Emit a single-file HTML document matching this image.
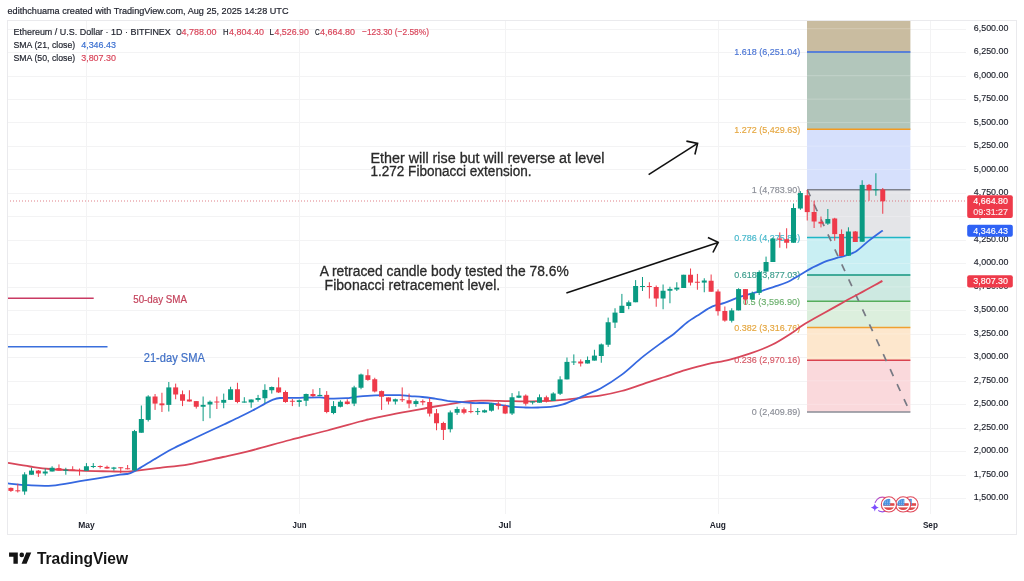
<!DOCTYPE html>
<html lang="en"><head><meta charset="utf-8"><title>ETHUSD chart</title>
<style>html,body{margin:0;padding:0;background:#fff}body{width:1024px;height:581px;overflow:hidden}svg{display:block}text{font-family:"Liberation Sans",sans-serif}</style></head><body>
<svg width="1024" height="581" viewBox="0 0 1024 581">
<rect width="1024" height="581" fill="#fff"/>
<g stroke="#f3f3f4" stroke-width="1" shape-rendering="crispEdges">
<line x1="7.0" y1="498.5" x2="966" y2="498.5"/><line x1="7.0" y1="475.0" x2="966" y2="475.0"/><line x1="7.0" y1="451.5" x2="966" y2="451.5"/><line x1="7.0" y1="428.1" x2="966" y2="428.1"/><line x1="7.0" y1="404.6" x2="966" y2="404.6"/><line x1="7.0" y1="381.1" x2="966" y2="381.1"/><line x1="7.0" y1="357.6" x2="966" y2="357.6"/><line x1="7.0" y1="334.2" x2="966" y2="334.2"/><line x1="7.0" y1="310.7" x2="966" y2="310.7"/><line x1="7.0" y1="287.2" x2="966" y2="287.2"/><line x1="7.0" y1="263.8" x2="966" y2="263.8"/><line x1="7.0" y1="240.3" x2="966" y2="240.3"/><line x1="7.0" y1="216.8" x2="966" y2="216.8"/><line x1="7.0" y1="193.3" x2="966" y2="193.3"/><line x1="7.0" y1="169.9" x2="966" y2="169.9"/><line x1="7.0" y1="146.4" x2="966" y2="146.4"/><line x1="7.0" y1="122.9" x2="966" y2="122.9"/><line x1="7.0" y1="99.4" x2="966" y2="99.4"/><line x1="7.0" y1="76.0" x2="966" y2="76.0"/><line x1="7.0" y1="52.5" x2="966" y2="52.5"/><line x1="7.0" y1="29.0" x2="966" y2="29.0"/><line x1="86.5" y1="20.5" x2="86.5" y2="514.2"/><line x1="299.5" y1="20.5" x2="299.5" y2="514.2"/><line x1="505.5" y1="20.5" x2="505.5" y2="514.2"/><line x1="718.0" y1="20.5" x2="718.0" y2="514.2"/><line x1="930.8" y1="20.5" x2="930.8" y2="514.2"/></g>
<g>
<rect x="807.0" y="360.14" width="103.4" height="51.81" fill="#fad9dc"/><rect x="807.0" y="327.60" width="103.4" height="32.54" fill="#fde7cd"/><rect x="807.0" y="301.30" width="103.4" height="26.30" fill="#dcefdd"/><rect x="807.0" y="275.00" width="103.4" height="26.30" fill="#cde9e1"/><rect x="807.0" y="237.55" width="103.4" height="37.45" fill="#c9eff3"/><rect x="807.0" y="189.85" width="103.4" height="47.70" fill="#e4e5e8"/><rect x="807.0" y="129.22" width="103.4" height="60.63" fill="#d6e0fc"/><rect x="807.0" y="52.10" width="103.4" height="77.12" fill="#b2c6bb"/><rect x="807.0" y="20.50" width="103.4" height="31.60" fill="#c9bca0"/></g>
<g stroke="#ffffff" stroke-opacity="0.22" stroke-width="1"><line x1="807.0" y1="404.3" x2="910.4" y2="404.3"/><line x1="807.0" y1="380.8" x2="910.4" y2="380.8"/><line x1="807.0" y1="357.3" x2="910.4" y2="357.3"/><line x1="807.0" y1="333.9" x2="910.4" y2="333.9"/><line x1="807.0" y1="310.4" x2="910.4" y2="310.4"/><line x1="807.0" y1="286.9" x2="910.4" y2="286.9"/><line x1="807.0" y1="263.5" x2="910.4" y2="263.5"/><line x1="807.0" y1="240.0" x2="910.4" y2="240.0"/><line x1="807.0" y1="216.5" x2="910.4" y2="216.5"/><line x1="807.0" y1="193.0" x2="910.4" y2="193.0"/><line x1="807.0" y1="169.6" x2="910.4" y2="169.6"/><line x1="807.0" y1="146.1" x2="910.4" y2="146.1"/><line x1="807.0" y1="122.6" x2="910.4" y2="122.6"/><line x1="807.0" y1="99.1" x2="910.4" y2="99.1"/><line x1="807.0" y1="75.7" x2="910.4" y2="75.7"/><line x1="807.0" y1="52.2" x2="910.4" y2="52.2"/><line x1="807.0" y1="28.7" x2="910.4" y2="28.7"/><line x1="930.8" y1="0" x2="930.8" y2="0"/></g>
<line x1="7.0" y1="201.0" x2="967" y2="201.0" stroke="#d8606a" stroke-opacity="0.8" stroke-width="1" stroke-dasharray="1 2"/>
<g stroke-width="1.5">
<line x1="807.0" y1="411.95" x2="910.4" y2="411.95" stroke="#8a8d96"/><line x1="807.0" y1="360.14" x2="910.4" y2="360.14" stroke="#d9424f"/><line x1="807.0" y1="327.60" x2="910.4" y2="327.60" stroke="#f0a030"/><line x1="807.0" y1="301.30" x2="910.4" y2="301.30" stroke="#55ad5a"/><line x1="807.0" y1="275.00" x2="910.4" y2="275.00" stroke="#12957e"/><line x1="807.0" y1="237.55" x2="910.4" y2="237.55" stroke="#1fb6c6"/><line x1="807.0" y1="189.85" x2="910.4" y2="189.85" stroke="#7e818c"/><line x1="807.0" y1="129.22" x2="910.4" y2="129.22" stroke="#f39a20"/><line x1="807.0" y1="52.10" x2="910.4" y2="52.10" stroke="#3568e0"/></g>
<line x1="807.4" y1="189.9" x2="909.9" y2="411.9" stroke="#777a84" stroke-width="1.7" stroke-dasharray="7.5 9" stroke-dashoffset="0.5"/>
<g font-size="9.6" text-anchor="end">
<text x="800.2" y="415.2" fill="#8a8d96" stroke="#8a8d96" stroke-width="0.15" textLength="48.4" lengthAdjust="spacingAndGlyphs">0 (2,409.89)</text><text x="800.2" y="363.4" fill="#d65866" stroke="#d65866" stroke-width="0.15" textLength="66.0" lengthAdjust="spacingAndGlyphs">0.236 (2,970.16)</text><text x="800.2" y="330.9" fill="#e5a63f" stroke="#e5a63f" stroke-width="0.15" textLength="66.0" lengthAdjust="spacingAndGlyphs">0.382 (3,316.76)</text><text x="800.2" y="304.6" fill="#6bb06d" stroke="#6bb06d" stroke-width="0.15" textLength="57.3" lengthAdjust="spacingAndGlyphs">0.5 (3,596.90)</text><text x="800.2" y="278.3" fill="#3a9c8b" stroke="#3a9c8b" stroke-width="0.15" textLength="66.0" lengthAdjust="spacingAndGlyphs">0.618 (3,877.03)</text><text x="800.2" y="240.9" fill="#44b7cb" stroke="#44b7cb" stroke-width="0.15" textLength="66.0" lengthAdjust="spacingAndGlyphs">0.786 (4,275.86)</text><text x="800.2" y="193.2" fill="#8a8d96" stroke="#8a8d96" stroke-width="0.15" textLength="48.4" lengthAdjust="spacingAndGlyphs">1 (4,783.90)</text><text x="800.2" y="132.5" fill="#e5a63f" stroke="#e5a63f" stroke-width="0.15" textLength="66.0" lengthAdjust="spacingAndGlyphs">1.272 (5,429.63)</text><text x="800.2" y="55.4" fill="#4a74d4" stroke="#4a74d4" stroke-width="0.15" textLength="66.0" lengthAdjust="spacingAndGlyphs">1.618 (6,251.04)</text></g>
<path d="M8.0 462.9 C11.7 463.5 23.0 465.5 30.0 466.5 C37.0 467.5 41.7 468.3 50.0 469.0 C58.3 469.7 70.0 470.2 80.0 470.6 C90.0 471.0 102.0 471.2 110.0 471.4 C118.0 471.6 123.5 471.8 128.0 471.7 C132.5 471.6 131.7 471.2 137.0 470.6 C142.3 470.0 151.4 468.9 160.0 467.8 C168.6 466.8 178.3 466.1 188.8 464.3 C199.3 462.5 213.1 459.1 223.0 457.0 C232.9 454.9 236.8 454.2 248.0 451.4 C259.2 448.6 276.8 443.5 290.0 440.0 C303.2 436.5 315.8 433.6 327.5 430.5 C339.2 427.4 353.2 423.3 360.0 421.5 C366.8 419.7 363.8 420.5 368.0 419.5 C372.2 418.5 378.0 417.1 385.0 415.8 C392.0 414.4 401.7 412.6 410.0 411.1 C418.3 409.6 426.7 407.9 435.0 406.5 C443.3 405.1 453.8 403.4 460.0 402.4 C466.2 401.4 467.8 401.1 472.5 400.8 C477.2 400.4 481.2 400.5 488.0 400.6 C494.8 400.7 504.7 401.1 513.0 401.2 C521.3 401.4 529.7 401.5 538.0 401.2 C546.3 401.0 554.7 400.5 563.0 399.8 C571.3 399.0 581.8 397.6 588.0 396.9 C594.2 396.2 594.4 396.7 600.0 395.7 C605.6 394.7 614.3 392.9 621.5 391.0 C628.7 389.1 635.8 386.4 643.0 384.1 C650.2 381.8 657.3 379.4 664.5 377.0 C671.7 374.6 678.9 372.0 686.0 369.9 C693.1 367.8 700.2 365.8 707.4 364.1 C714.6 362.4 721.8 361.6 729.0 359.8 C736.2 358.0 743.2 355.9 750.4 353.4 C757.6 350.9 764.8 348.4 772.0 344.8 C779.2 341.2 788.7 334.9 793.4 331.9 C798.1 328.9 796.9 328.9 800.0 326.9 C803.1 324.9 807.8 322.1 812.0 319.8 C816.2 317.4 820.3 315.1 825.0 312.5 C829.7 309.9 835.8 306.4 840.0 304.1 C844.2 301.8 846.2 300.5 850.0 298.5 C853.8 296.5 858.3 294.1 862.5 291.9 C866.7 289.6 871.7 286.8 875.0 285.0 C878.3 283.2 881.2 281.6 882.4 280.9" fill="none" stroke="#d8475a" stroke-width="1.8" stroke-linejoin="round"/>
<path d="M8.0 483.4 C11.3 483.7 20.7 484.9 28.0 485.2 C35.3 485.6 43.3 486.3 52.0 485.6 C60.7 484.9 68.7 483.1 80.0 481.2 C91.3 479.4 112.0 475.9 120.0 474.7 C128.0 473.5 125.7 474.3 128.0 473.8 C130.3 473.3 132.5 472.2 134.0 471.5 C135.5 470.8 133.8 471.8 137.2 469.8 C140.6 467.8 148.7 462.7 154.4 459.3 C160.1 455.9 165.9 452.4 171.6 449.3 C177.3 446.2 183.1 443.6 188.8 440.9 C194.5 438.1 200.2 435.5 206.0 432.8 C211.8 430.1 217.6 427.4 223.3 424.7 C229.0 422.0 235.1 419.2 240.0 416.8 C244.9 414.4 248.3 412.7 252.5 410.5 C256.7 408.3 261.7 405.4 265.0 403.6 C268.3 401.8 270.0 400.8 272.5 399.9 C275.0 399.0 275.4 398.4 280.0 398.0 C284.6 397.6 293.3 397.9 300.0 397.8 C306.7 397.6 315.0 397.3 320.0 397.4 C325.0 397.5 325.7 398.5 330.0 398.6 C334.3 398.7 341.8 398.5 346.0 398.2 C350.2 398.0 351.4 397.4 355.0 397.0 C358.6 396.6 362.5 396.0 367.5 395.8 C372.5 395.5 379.6 395.3 385.0 395.2 C390.4 395.2 395.8 395.1 400.0 395.2 C404.2 395.4 406.2 395.8 410.0 396.1 C413.8 396.4 418.3 396.6 422.5 397.0 C426.7 397.4 430.8 398.0 435.0 398.6 C439.2 399.2 443.3 400.2 447.5 400.8 C451.7 401.3 455.8 401.6 460.0 402.0 C464.2 402.4 467.8 402.8 472.5 403.0 C477.2 403.2 483.3 402.8 488.0 403.1 C492.7 403.4 496.3 404.1 500.5 404.8 C504.7 405.4 508.8 406.4 513.0 406.9 C517.2 407.4 521.3 407.4 525.5 407.5 C529.7 407.6 533.8 407.6 538.0 407.5 C542.2 407.4 546.3 407.4 550.5 406.9 C554.7 406.4 558.8 405.6 563.0 404.4 C567.2 403.1 571.3 401.2 575.5 399.4 C579.7 397.6 583.8 395.6 588.0 393.8 C592.2 391.9 594.9 391.6 600.5 388.5 C606.1 385.4 614.4 380.2 621.5 374.9 C628.6 369.6 635.8 362.3 643.0 356.6 C650.2 350.9 659.4 344.3 664.5 340.5 C669.6 336.7 670.0 337.0 673.8 334.0 C677.5 331.0 682.6 325.9 687.0 322.5 C691.4 319.1 695.8 316.6 700.0 313.9 C704.2 311.2 708.4 308.2 712.5 306.4 C716.6 304.6 720.4 304.3 724.5 302.9 C728.6 301.5 732.8 299.4 737.0 297.9 C741.2 296.4 745.3 295.3 749.5 294.1 C753.7 292.9 757.8 292.0 762.0 290.8 C766.2 289.5 770.3 288.0 774.5 286.6 C778.7 285.2 782.8 284.1 787.0 282.2 C791.2 280.4 795.3 277.6 799.5 275.2 C803.7 272.8 807.8 270.1 812.0 267.9 C816.2 265.7 820.3 263.5 824.5 261.8 C828.7 260.1 833.9 258.8 837.0 257.9 C840.1 257.0 839.9 257.4 843.0 256.4 C846.1 255.4 851.3 254.2 855.5 251.8 C859.7 249.2 863.8 244.7 868.0 241.4 C872.2 238.1 878.0 233.8 880.5 232.0 C883.0 230.2 882.4 230.8 882.8 230.5" fill="none" stroke="#3568e0" stroke-width="1.8" stroke-linejoin="round"/>
<g>
<rect x="10.40" y="487.50" width="1" height="4.40" fill="#ee3a4a"/><rect x="8.40" y="487.90" width="5" height="3.00" fill="#ee3a4a"/><rect x="17.27" y="483.75" width="1" height="8.75" fill="#ee3a4a"/><rect x="15.27" y="490.30" width="5" height="1.00" fill="#ee3a4a"/><rect x="24.13" y="472.25" width="1" height="22.50" fill="#0a9a82"/><rect x="22.13" y="474.40" width="5" height="17.10" fill="#0a9a82"/><rect x="30.99" y="467.75" width="1" height="7.00" fill="#0a9a82"/><rect x="28.99" y="470.60" width="5" height="4.15" fill="#0a9a82"/><rect x="37.86" y="470.00" width="1" height="6.90" fill="#ee3a4a"/><rect x="35.86" y="470.60" width="5" height="2.90" fill="#ee3a4a"/><rect x="44.73" y="468.50" width="1" height="7.10" fill="#0a9a82"/><rect x="42.73" y="471.50" width="5" height="2.00" fill="#0a9a82"/><rect x="51.59" y="466.25" width="1" height="5.25" fill="#0a9a82"/><rect x="49.59" y="467.75" width="5" height="3.75" fill="#0a9a82"/><rect x="58.45" y="464.40" width="1" height="6.20" fill="#ee3a4a"/><rect x="56.45" y="468.10" width="5" height="2.50" fill="#ee3a4a"/><rect x="65.32" y="467.75" width="1" height="7.00" fill="#0a9a82"/><rect x="63.32" y="469.75" width="5" height="1.00" fill="#0a9a82"/><rect x="72.19" y="466.25" width="1" height="4.00" fill="#ee3a4a"/><rect x="70.19" y="469.50" width="5" height="1.00" fill="#ee3a4a"/><rect x="79.05" y="468.50" width="1" height="7.10" fill="#ee3a4a"/><rect x="77.05" y="470.00" width="5" height="1.00" fill="#ee3a4a"/><rect x="85.92" y="463.10" width="1" height="7.65" fill="#0a9a82"/><rect x="83.92" y="466.25" width="5" height="4.50" fill="#0a9a82"/><rect x="92.78" y="463.10" width="1" height="5.00" fill="#0a9a82"/><rect x="90.78" y="466.00" width="5" height="1.00" fill="#0a9a82"/><rect x="99.65" y="465.40" width="1" height="3.10" fill="#ee3a4a"/><rect x="97.65" y="466.00" width="5" height="1.00" fill="#ee3a4a"/><rect x="106.51" y="465.60" width="1" height="3.15" fill="#ee3a4a"/><rect x="104.51" y="466.90" width="5" height="1.60" fill="#ee3a4a"/><rect x="113.38" y="466.90" width="1" height="3.70" fill="#0a9a82"/><rect x="111.38" y="467.50" width="5" height="1.25" fill="#0a9a82"/><rect x="120.24" y="467.25" width="1" height="5.85" fill="#ee3a4a"/><rect x="118.24" y="467.25" width="5" height="1.00" fill="#ee3a4a"/><rect x="127.11" y="465.00" width="1" height="4.40" fill="#ee3a4a"/><rect x="125.11" y="468.25" width="5" height="1.00" fill="#ee3a4a"/><rect x="133.97" y="429.90" width="1" height="40.60" fill="#0a9a82"/><rect x="131.97" y="431.10" width="5" height="39.30" fill="#0a9a82"/><rect x="140.84" y="405.50" width="1" height="27.25" fill="#0a9a82"/><rect x="138.84" y="419.00" width="5" height="13.75" fill="#0a9a82"/><rect x="147.70" y="395.25" width="1" height="26.25" fill="#0a9a82"/><rect x="145.70" y="396.50" width="5" height="23.40" fill="#0a9a82"/><rect x="154.56" y="394.00" width="1" height="15.90" fill="#ee3a4a"/><rect x="152.56" y="396.50" width="5" height="7.10" fill="#ee3a4a"/><rect x="161.43" y="392.75" width="1" height="19.25" fill="#ee3a4a"/><rect x="159.43" y="403.40" width="5" height="1.85" fill="#ee3a4a"/><rect x="168.30" y="382.00" width="1" height="29.50" fill="#0a9a82"/><rect x="166.30" y="387.40" width="5" height="17.50" fill="#0a9a82"/><rect x="175.16" y="383.60" width="1" height="15.65" fill="#ee3a4a"/><rect x="173.16" y="387.40" width="5" height="7.10" fill="#ee3a4a"/><rect x="182.03" y="390.50" width="1" height="15.60" fill="#ee3a4a"/><rect x="180.03" y="394.25" width="5" height="6.50" fill="#ee3a4a"/><rect x="188.89" y="390.25" width="1" height="11.25" fill="#ee3a4a"/><rect x="186.89" y="399.50" width="5" height="2.00" fill="#ee3a4a"/><rect x="195.76" y="401.10" width="1" height="7.50" fill="#ee3a4a"/><rect x="193.76" y="401.10" width="5" height="5.65" fill="#ee3a4a"/><rect x="202.62" y="396.50" width="1" height="24.60" fill="#0a9a82"/><rect x="200.62" y="404.90" width="5" height="1.85" fill="#0a9a82"/><rect x="209.49" y="400.50" width="1" height="17.75" fill="#0a9a82"/><rect x="207.49" y="401.75" width="5" height="2.75" fill="#0a9a82"/><rect x="216.35" y="396.50" width="1" height="12.50" fill="#ee3a4a"/><rect x="214.35" y="401.50" width="5" height="1.00" fill="#ee3a4a"/><rect x="223.22" y="393.60" width="1" height="14.65" fill="#0a9a82"/><rect x="221.22" y="399.90" width="5" height="2.85" fill="#0a9a82"/><rect x="230.08" y="386.75" width="1" height="13.15" fill="#0a9a82"/><rect x="228.08" y="389.25" width="5" height="10.65" fill="#0a9a82"/><rect x="236.95" y="382.75" width="1" height="20.50" fill="#ee3a4a"/><rect x="234.95" y="389.25" width="5" height="12.75" fill="#ee3a4a"/><rect x="243.81" y="397.20" width="1" height="5.40" fill="#0a9a82"/><rect x="241.81" y="401.50" width="5" height="1.10" fill="#0a9a82"/><rect x="250.68" y="399.50" width="1" height="8.25" fill="#0a9a82"/><rect x="248.68" y="399.50" width="5" height="2.90" fill="#0a9a82"/><rect x="257.54" y="394.90" width="1" height="6.85" fill="#0a9a82"/><rect x="255.54" y="398.00" width="5" height="1.90" fill="#0a9a82"/><rect x="264.40" y="384.25" width="1" height="18.75" fill="#0a9a82"/><rect x="262.40" y="389.90" width="5" height="8.35" fill="#0a9a82"/><rect x="271.27" y="386.50" width="1" height="7.10" fill="#0a9a82"/><rect x="269.27" y="387.00" width="5" height="3.25" fill="#0a9a82"/><rect x="278.13" y="377.40" width="1" height="15.60" fill="#ee3a4a"/><rect x="276.13" y="387.40" width="5" height="5.00" fill="#ee3a4a"/><rect x="285.00" y="390.50" width="1" height="12.25" fill="#ee3a4a"/><rect x="283.00" y="392.00" width="5" height="10.00" fill="#ee3a4a"/><rect x="291.87" y="399.00" width="1" height="7.10" fill="#ee3a4a"/><rect x="289.87" y="400.75" width="5" height="1.00" fill="#ee3a4a"/><rect x="298.73" y="399.50" width="1" height="7.25" fill="#0a9a82"/><rect x="296.73" y="400.25" width="5" height="1.75" fill="#0a9a82"/><rect x="305.59" y="393.60" width="1" height="12.50" fill="#0a9a82"/><rect x="303.59" y="394.00" width="5" height="6.75" fill="#0a9a82"/><rect x="312.46" y="389.25" width="1" height="7.75" fill="#ee3a4a"/><rect x="310.46" y="394.00" width="5" height="2.10" fill="#ee3a4a"/><rect x="319.32" y="388.00" width="1" height="8.10" fill="#0a9a82"/><rect x="317.32" y="394.90" width="5" height="1.20" fill="#0a9a82"/><rect x="326.19" y="391.10" width="1" height="22.15" fill="#ee3a4a"/><rect x="324.19" y="394.90" width="5" height="17.10" fill="#ee3a4a"/><rect x="333.06" y="401.10" width="1" height="13.15" fill="#0a9a82"/><rect x="331.06" y="406.10" width="5" height="6.90" fill="#0a9a82"/><rect x="339.92" y="400.25" width="1" height="7.15" fill="#0a9a82"/><rect x="337.92" y="401.75" width="5" height="5.00" fill="#0a9a82"/><rect x="346.78" y="399.25" width="1" height="5.25" fill="#ee3a4a"/><rect x="344.78" y="401.50" width="5" height="2.50" fill="#ee3a4a"/><rect x="353.65" y="385.75" width="1" height="20.35" fill="#0a9a82"/><rect x="351.65" y="387.40" width="5" height="16.20" fill="#0a9a82"/><rect x="360.51" y="373.60" width="1" height="15.65" fill="#0a9a82"/><rect x="358.51" y="374.50" width="5" height="13.25" fill="#0a9a82"/><rect x="367.38" y="369.25" width="1" height="11.50" fill="#ee3a4a"/><rect x="365.38" y="375.25" width="5" height="4.65" fill="#ee3a4a"/><rect x="374.25" y="377.75" width="1" height="14.65" fill="#ee3a4a"/><rect x="372.25" y="379.25" width="5" height="12.25" fill="#ee3a4a"/><rect x="381.11" y="390.50" width="1" height="19.40" fill="#ee3a4a"/><rect x="379.11" y="391.10" width="5" height="5.65" fill="#ee3a4a"/><rect x="387.97" y="397.40" width="1" height="7.10" fill="#ee3a4a"/><rect x="385.97" y="397.40" width="5" height="4.10" fill="#ee3a4a"/><rect x="394.84" y="398.60" width="1" height="5.90" fill="#0a9a82"/><rect x="392.84" y="399.25" width="5" height="2.25" fill="#0a9a82"/><rect x="401.70" y="387.40" width="1" height="14.60" fill="#ee3a4a"/><rect x="399.70" y="399.25" width="5" height="1.00" fill="#ee3a4a"/><rect x="408.57" y="393.60" width="1" height="14.65" fill="#ee3a4a"/><rect x="406.57" y="400.25" width="5" height="3.35" fill="#ee3a4a"/><rect x="415.44" y="399.50" width="1" height="7.25" fill="#0a9a82"/><rect x="413.44" y="401.10" width="5" height="2.90" fill="#0a9a82"/><rect x="422.30" y="399.50" width="1" height="5.75" fill="#ee3a4a"/><rect x="420.30" y="401.10" width="5" height="1.30" fill="#ee3a4a"/><rect x="429.16" y="398.00" width="1" height="18.50" fill="#ee3a4a"/><rect x="427.16" y="402.00" width="5" height="11.60" fill="#ee3a4a"/><rect x="436.03" y="409.00" width="1" height="21.25" fill="#ee3a4a"/><rect x="434.03" y="413.25" width="5" height="10.00" fill="#ee3a4a"/><rect x="442.89" y="421.75" width="1" height="18.25" fill="#ee3a4a"/><rect x="440.89" y="423.00" width="5" height="6.90" fill="#ee3a4a"/><rect x="449.76" y="410.50" width="1" height="21.90" fill="#0a9a82"/><rect x="447.76" y="412.40" width="5" height="16.85" fill="#0a9a82"/><rect x="456.62" y="406.75" width="1" height="8.15" fill="#0a9a82"/><rect x="454.62" y="409.00" width="5" height="3.75" fill="#0a9a82"/><rect x="463.49" y="407.40" width="1" height="6.85" fill="#ee3a4a"/><rect x="461.49" y="409.25" width="5" height="3.50" fill="#ee3a4a"/><rect x="470.36" y="403.60" width="1" height="9.65" fill="#ee3a4a"/><rect x="468.36" y="411.10" width="5" height="1.00" fill="#ee3a4a"/><rect x="477.22" y="408.00" width="1" height="6.90" fill="#0a9a82"/><rect x="475.22" y="411.10" width="5" height="1.00" fill="#0a9a82"/><rect x="484.08" y="409.50" width="1" height="3.25" fill="#0a9a82"/><rect x="482.08" y="410.25" width="5" height="2.15" fill="#0a9a82"/><rect x="490.95" y="402.90" width="1" height="8.70" fill="#0a9a82"/><rect x="488.95" y="403.50" width="5" height="7.20" fill="#0a9a82"/><rect x="497.81" y="401.60" width="1" height="7.90" fill="#ee3a4a"/><rect x="495.81" y="403.75" width="5" height="2.05" fill="#ee3a4a"/><rect x="504.68" y="404.50" width="1" height="9.60" fill="#ee3a4a"/><rect x="502.68" y="406.00" width="5" height="7.50" fill="#ee3a4a"/><rect x="511.55" y="393.10" width="1" height="21.90" fill="#0a9a82"/><rect x="509.55" y="397.25" width="5" height="16.25" fill="#0a9a82"/><rect x="518.41" y="391.25" width="1" height="6.85" fill="#0a9a82"/><rect x="516.41" y="395.60" width="5" height="2.15" fill="#0a9a82"/><rect x="525.27" y="394.40" width="1" height="11.20" fill="#ee3a4a"/><rect x="523.27" y="395.60" width="5" height="8.15" fill="#ee3a4a"/><rect x="532.14" y="401.00" width="1" height="3.40" fill="#0a9a82"/><rect x="530.14" y="401.25" width="5" height="1.25" fill="#0a9a82"/><rect x="539.00" y="394.40" width="1" height="8.35" fill="#0a9a82"/><rect x="537.00" y="397.25" width="5" height="5.50" fill="#0a9a82"/><rect x="545.87" y="395.60" width="1" height="6.90" fill="#ee3a4a"/><rect x="543.87" y="397.25" width="5" height="4.25" fill="#ee3a4a"/><rect x="552.74" y="392.25" width="1" height="8.75" fill="#0a9a82"/><rect x="550.74" y="393.50" width="5" height="7.50" fill="#0a9a82"/><rect x="559.60" y="376.25" width="1" height="18.75" fill="#0a9a82"/><rect x="557.60" y="379.40" width="5" height="14.35" fill="#0a9a82"/><rect x="566.47" y="357.50" width="1" height="21.90" fill="#0a9a82"/><rect x="564.47" y="361.90" width="5" height="17.50" fill="#0a9a82"/><rect x="573.33" y="354.40" width="1" height="10.60" fill="#0a9a82"/><rect x="571.33" y="361.50" width="5" height="1.00" fill="#0a9a82"/><rect x="580.20" y="359.40" width="1" height="7.10" fill="#ee3a4a"/><rect x="578.20" y="361.50" width="5" height="2.00" fill="#ee3a4a"/><rect x="587.06" y="356.50" width="1" height="7.00" fill="#0a9a82"/><rect x="585.06" y="360.00" width="5" height="3.50" fill="#0a9a82"/><rect x="593.92" y="349.75" width="1" height="10.85" fill="#0a9a82"/><rect x="591.92" y="355.60" width="5" height="5.00" fill="#0a9a82"/><rect x="600.79" y="343.50" width="1" height="19.25" fill="#0a9a82"/><rect x="598.79" y="344.40" width="5" height="11.60" fill="#0a9a82"/><rect x="607.65" y="317.60" width="1" height="29.30" fill="#0a9a82"/><rect x="605.65" y="322.25" width="5" height="22.50" fill="#0a9a82"/><rect x="614.52" y="308.25" width="1" height="19.75" fill="#0a9a82"/><rect x="612.52" y="312.60" width="5" height="10.00" fill="#0a9a82"/><rect x="621.38" y="293.90" width="1" height="19.10" fill="#0a9a82"/><rect x="619.38" y="305.75" width="5" height="7.25" fill="#0a9a82"/><rect x="628.25" y="300.50" width="1" height="8.75" fill="#0a9a82"/><rect x="626.25" y="302.25" width="5" height="3.75" fill="#0a9a82"/><rect x="635.12" y="280.10" width="1" height="22.15" fill="#0a9a82"/><rect x="633.12" y="286.00" width="5" height="16.25" fill="#0a9a82"/><rect x="641.98" y="277.00" width="1" height="14.00" fill="#0a9a82"/><rect x="639.98" y="286.00" width="5" height="1.00" fill="#0a9a82"/><rect x="648.85" y="282.25" width="1" height="16.25" fill="#ee3a4a"/><rect x="646.85" y="286.00" width="5" height="1.00" fill="#ee3a4a"/><rect x="655.71" y="285.50" width="1" height="21.25" fill="#ee3a4a"/><rect x="653.71" y="287.00" width="5" height="11.50" fill="#ee3a4a"/><rect x="662.58" y="284.50" width="1" height="24.75" fill="#0a9a82"/><rect x="660.58" y="290.75" width="5" height="7.75" fill="#0a9a82"/><rect x="669.44" y="286.75" width="1" height="16.50" fill="#0a9a82"/><rect x="667.44" y="288.90" width="5" height="1.85" fill="#0a9a82"/><rect x="676.30" y="282.25" width="1" height="8.75" fill="#0a9a82"/><rect x="674.30" y="287.60" width="5" height="1.90" fill="#0a9a82"/><rect x="683.17" y="274.75" width="1" height="13.25" fill="#0a9a82"/><rect x="681.17" y="274.75" width="5" height="13.25" fill="#0a9a82"/><rect x="690.03" y="268.50" width="1" height="17.00" fill="#ee3a4a"/><rect x="688.03" y="274.75" width="5" height="7.85" fill="#ee3a4a"/><rect x="696.90" y="273.90" width="1" height="15.85" fill="#ee3a4a"/><rect x="694.90" y="281.75" width="5" height="1.00" fill="#ee3a4a"/><rect x="703.76" y="278.25" width="1" height="14.00" fill="#0a9a82"/><rect x="701.76" y="280.50" width="5" height="2.10" fill="#0a9a82"/><rect x="710.63" y="274.50" width="1" height="17.25" fill="#ee3a4a"/><rect x="708.63" y="280.75" width="5" height="11.00" fill="#ee3a4a"/><rect x="717.50" y="289.40" width="1" height="26.20" fill="#ee3a4a"/><rect x="715.50" y="291.50" width="5" height="19.70" fill="#ee3a4a"/><rect x="724.36" y="306.50" width="1" height="15.20" fill="#ee3a4a"/><rect x="722.36" y="311.00" width="5" height="9.60" fill="#ee3a4a"/><rect x="731.23" y="308.25" width="1" height="14.25" fill="#0a9a82"/><rect x="729.23" y="310.40" width="5" height="10.35" fill="#0a9a82"/><rect x="738.09" y="288.25" width="1" height="22.15" fill="#0a9a82"/><rect x="736.09" y="289.10" width="5" height="21.30" fill="#0a9a82"/><rect x="744.96" y="289.10" width="1" height="15.65" fill="#ee3a4a"/><rect x="742.96" y="289.10" width="5" height="10.40" fill="#ee3a4a"/><rect x="751.82" y="291.60" width="1" height="7.90" fill="#0a9a82"/><rect x="749.82" y="293.25" width="5" height="6.25" fill="#0a9a82"/><rect x="758.68" y="270.40" width="1" height="24.60" fill="#0a9a82"/><rect x="756.68" y="272.00" width="5" height="20.90" fill="#0a9a82"/><rect x="765.55" y="256.60" width="1" height="15.00" fill="#0a9a82"/><rect x="763.55" y="262.00" width="5" height="9.60" fill="#0a9a82"/><rect x="772.41" y="237.60" width="1" height="24.40" fill="#0a9a82"/><rect x="770.41" y="238.50" width="5" height="23.50" fill="#0a9a82"/><rect x="779.28" y="232.40" width="1" height="15.35" fill="#ee3a4a"/><rect x="777.28" y="238.50" width="5" height="1.25" fill="#ee3a4a"/><rect x="786.14" y="228.25" width="1" height="20.15" fill="#ee3a4a"/><rect x="784.14" y="239.20" width="5" height="3.55" fill="#ee3a4a"/><rect x="793.01" y="203.50" width="1" height="39.25" fill="#0a9a82"/><rect x="791.01" y="208.00" width="5" height="34.75" fill="#0a9a82"/><rect x="799.88" y="191.10" width="1" height="18.70" fill="#0a9a82"/><rect x="797.88" y="193.00" width="5" height="15.50" fill="#0a9a82"/><rect x="806.74" y="189.90" width="1" height="30.60" fill="#ee3a4a"/><rect x="804.74" y="195.25" width="5" height="16.85" fill="#ee3a4a"/><rect x="813.61" y="200.75" width="1" height="27.25" fill="#ee3a4a"/><rect x="811.61" y="212.00" width="5" height="9.50" fill="#ee3a4a"/><rect x="820.47" y="216.50" width="1" height="10.90" fill="#ee3a4a"/><rect x="818.47" y="221.75" width="5" height="1.85" fill="#ee3a4a"/><rect x="827.34" y="209.00" width="1" height="15.90" fill="#0a9a82"/><rect x="825.34" y="219.00" width="5" height="4.60" fill="#0a9a82"/><rect x="834.20" y="217.80" width="1" height="22.95" fill="#ee3a4a"/><rect x="832.20" y="218.50" width="5" height="15.60" fill="#ee3a4a"/><rect x="841.07" y="229.40" width="1" height="26.60" fill="#ee3a4a"/><rect x="839.07" y="234.00" width="5" height="22.00" fill="#ee3a4a"/><rect x="847.93" y="227.30" width="1" height="28.45" fill="#0a9a82"/><rect x="845.93" y="231.50" width="5" height="24.25" fill="#0a9a82"/><rect x="854.79" y="231.00" width="1" height="11.00" fill="#ee3a4a"/><rect x="852.79" y="231.50" width="5" height="10.50" fill="#ee3a4a"/><rect x="861.66" y="180.25" width="1" height="61.50" fill="#0a9a82"/><rect x="859.66" y="184.90" width="5" height="56.85" fill="#0a9a82"/><rect x="868.52" y="184.00" width="1" height="16.75" fill="#ee3a4a"/><rect x="866.52" y="184.90" width="5" height="5.35" fill="#ee3a4a"/><rect x="875.39" y="173.25" width="1" height="22.50" fill="#0a9a82"/><rect x="873.39" y="189.25" width="5" height="1.00" fill="#0a9a82"/><rect x="882.25" y="188.00" width="1" height="25.75" fill="#ee3a4a"/><rect x="880.25" y="189.50" width="5" height="11.80" fill="#ee3a4a"/></g>
<line x1="8" y1="298.2" x2="93.7" y2="298.2" stroke="#c93a63" stroke-width="1.5"/>
<line x1="8" y1="346.7" x2="107.5" y2="346.7" stroke="#3a6fdc" stroke-width="1.5"/>
<text x="133.2" y="303" font-size="10.6" fill="#c4435c" stroke="#c4435c" stroke-width="0.2" textLength="53.8" lengthAdjust="spacingAndGlyphs">50-day SMA</text>
<text x="143.7" y="362" font-size="12.3" fill="#3f6fc6" stroke="#3f6fc6" stroke-width="0.2" textLength="61.3" lengthAdjust="spacingAndGlyphs">21-day SMA</text>
<g stroke="#111" stroke-width="1.6" fill="none" stroke-linecap="butt" stroke-linejoin="miter"><line x1="648.6" y1="174.6" x2="697.6" y2="143.4"/><polyline points="686.4,141.1 697.6,143.4 694.9,154.5"/></g>
<g stroke="#111" stroke-width="1.6" fill="none" stroke-linecap="butt" stroke-linejoin="miter"><line x1="566.4" y1="293.0" x2="718.2" y2="242.4"/><polyline points="707.9,237.5 718.2,242.4 712.9,252.5"/></g>
<g font-size="14" fill="#2a2a2a" stroke="#2a2a2a" stroke-width="0.3">
<text x="370.5" y="162.5" textLength="234" lengthAdjust="spacingAndGlyphs">Ether will rise but will reverse at level</text><text x="370.5" y="175.75" textLength="161" lengthAdjust="spacingAndGlyphs">1.272 Fibonacci extension.</text><text x="319.7" y="276.4" textLength="249" lengthAdjust="spacingAndGlyphs">A retraced candle body tested the 78.6%</text><text x="324.6" y="290" textLength="175.6" lengthAdjust="spacingAndGlyphs">Fibonacci retracement level.</text></g>
<rect x="7.0" y="20.5" width="1009.6" height="514.3" fill="none" stroke="#eaeaed" stroke-width="1" shape-rendering="crispEdges"/>
<g font-size="9.6" fill="#1c1f2a" stroke="#1c1f2a" stroke-width="0.15" text-anchor="end">
<text x="1008.4" y="500.1" textLength="34.6" lengthAdjust="spacingAndGlyphs">1,500.00</text><text x="1008.4" y="476.6" textLength="34.6" lengthAdjust="spacingAndGlyphs">1,750.00</text><text x="1008.4" y="453.1" textLength="34.6" lengthAdjust="spacingAndGlyphs">2,000.00</text><text x="1008.4" y="429.7" textLength="34.6" lengthAdjust="spacingAndGlyphs">2,250.00</text><text x="1008.4" y="406.2" textLength="34.6" lengthAdjust="spacingAndGlyphs">2,500.00</text><text x="1008.4" y="382.7" textLength="34.6" lengthAdjust="spacingAndGlyphs">2,750.00</text><text x="1008.4" y="359.2" textLength="34.6" lengthAdjust="spacingAndGlyphs">3,000.00</text><text x="1008.4" y="335.8" textLength="34.6" lengthAdjust="spacingAndGlyphs">3,250.00</text><text x="1008.4" y="312.3" textLength="34.6" lengthAdjust="spacingAndGlyphs">3,500.00</text><text x="1008.4" y="288.8" textLength="34.6" lengthAdjust="spacingAndGlyphs">3,750.00</text><text x="1008.4" y="265.4" textLength="34.6" lengthAdjust="spacingAndGlyphs">4,000.00</text><text x="1008.4" y="241.9" textLength="34.6" lengthAdjust="spacingAndGlyphs">4,250.00</text><text x="1008.4" y="218.4" textLength="34.6" lengthAdjust="spacingAndGlyphs">4,500.00</text><text x="1008.4" y="194.9" textLength="34.6" lengthAdjust="spacingAndGlyphs">4,750.00</text><text x="1008.4" y="171.5" textLength="34.6" lengthAdjust="spacingAndGlyphs">5,000.00</text><text x="1008.4" y="148.0" textLength="34.6" lengthAdjust="spacingAndGlyphs">5,250.00</text><text x="1008.4" y="124.5" textLength="34.6" lengthAdjust="spacingAndGlyphs">5,500.00</text><text x="1008.4" y="101.0" textLength="34.6" lengthAdjust="spacingAndGlyphs">5,750.00</text><text x="1008.4" y="77.6" textLength="34.6" lengthAdjust="spacingAndGlyphs">6,000.00</text><text x="1008.4" y="54.1" textLength="34.6" lengthAdjust="spacingAndGlyphs">6,250.00</text><text x="1008.4" y="30.6" textLength="34.6" lengthAdjust="spacingAndGlyphs">6,500.00</text></g>
<rect x="967.2" y="195.3" width="45.6" height="22.8" rx="2" fill="#ee3a4a"/>
<rect x="967.2" y="224.8" width="45.6" height="11.9" rx="2" fill="#2f62f5"/>
<rect x="967.2" y="275.2" width="45.6" height="12.3" rx="2" fill="#ee3a4a"/>
<g font-size="9.6" fill="#fff" stroke="#fff" stroke-width="0.15" text-anchor="end"><text x="1008" y="204.1" textLength="34.7" lengthAdjust="spacingAndGlyphs">4,664.80</text><text x="1008" y="214.5" textLength="34.7" lengthAdjust="spacingAndGlyphs" fill-opacity="0.85">09:31:27</text><text x="1008" y="233.6" textLength="34.7" lengthAdjust="spacingAndGlyphs">4,346.43</text><text x="1008" y="284.1" textLength="34.7" lengthAdjust="spacingAndGlyphs">3,807.30</text></g>
<g font-size="9.8" font-weight="bold" fill="#1c1f2a" text-anchor="middle"><text x="86.5" y="528.4" textLength="16.5" lengthAdjust="spacingAndGlyphs">May</text><text x="299.5" y="528.4" textLength="14.0" lengthAdjust="spacingAndGlyphs">Jun</text><text x="504.8" y="528.4" textLength="12.8" lengthAdjust="spacingAndGlyphs">Jul</text><text x="717.8" y="528.4" textLength="16.2" lengthAdjust="spacingAndGlyphs">Aug</text><text x="930.4" y="528.4" textLength="15.0" lengthAdjust="spacingAndGlyphs">Sep</text></g>
<text x="7.5" y="14" font-size="9.9" fill="#1c1f2a" stroke="#1c1f2a" stroke-width="0.2" textLength="281" lengthAdjust="spacingAndGlyphs">edithchuama created with TradingView.com, Aug 25, 2025 14:28 UTC</text>
<g font-size="9.6">
<text x="13.5" y="34.8" fill="#1c1f2a" stroke="#1c1f2a" stroke-width="0.18" textLength="157.3" lengthAdjust="spacingAndGlyphs">Ethereum / U.S. Dollar · 1D · BITFINEX</text><text x="176.2" y="34.8" fill="#1c1f2a" stroke="#1c1f2a" stroke-width="0.18" textLength="5.4" lengthAdjust="spacingAndGlyphs">O</text><text x="181.6" y="34.8" fill="#d9455a" stroke="#d9455a" stroke-width="0.18" textLength="35.0" lengthAdjust="spacingAndGlyphs">4,788.00</text><text x="223.0" y="34.8" fill="#1c1f2a" stroke="#1c1f2a" stroke-width="0.18" textLength="5.6" lengthAdjust="spacingAndGlyphs">H</text><text x="229.1" y="34.8" fill="#d9455a" stroke="#d9455a" stroke-width="0.18" textLength="34.8" lengthAdjust="spacingAndGlyphs">4,804.40</text><text x="269.5" y="34.8" fill="#1c1f2a" stroke="#1c1f2a" stroke-width="0.18" textLength="4.4" lengthAdjust="spacingAndGlyphs">L</text><text x="274.5" y="34.8" fill="#d9455a" stroke="#d9455a" stroke-width="0.18" textLength="34.3" lengthAdjust="spacingAndGlyphs">4,526.90</text><text x="315.1" y="34.8" fill="#1c1f2a" stroke="#1c1f2a" stroke-width="0.18" textLength="4.7" lengthAdjust="spacingAndGlyphs">C</text><text x="320.0" y="34.8" fill="#d9455a" stroke="#d9455a" stroke-width="0.18" textLength="34.9" lengthAdjust="spacingAndGlyphs">4,664.80</text><text x="362.0" y="34.8" fill="#d9455a" stroke="#d9455a" stroke-width="0.18" textLength="67.0" lengthAdjust="spacingAndGlyphs">−123.30 (−2.58%)</text><text x="13.5" y="47.7" fill="#1c1f2a" stroke="#1c1f2a" stroke-width="0.18" textLength="61.7" lengthAdjust="spacingAndGlyphs">SMA (21, close)</text><text x="81.2" y="47.7" fill="#3a6fd0" stroke="#3a6fd0" stroke-width="0.18" textLength="34.8" lengthAdjust="spacingAndGlyphs">4,346.43</text><text x="13.5" y="60.7" fill="#1c1f2a" stroke="#1c1f2a" stroke-width="0.18" textLength="61.7" lengthAdjust="spacingAndGlyphs">SMA (50, close)</text><text x="81.2" y="60.7" fill="#d9455a" stroke="#d9455a" stroke-width="0.18" textLength="34.8" lengthAdjust="spacingAndGlyphs">3,807.30</text></g>
<g>
<linearGradient id="pg" x1="1" y1="0" x2="0" y2="1"><stop offset="0" stop-color="#e0559a"/><stop offset="1" stop-color="#7c4dff"/></linearGradient><circle cx="882.4" cy="504.5" r="7.4" fill="#fff" stroke="url(#pg)" stroke-width="1.1"/><circle cx="874.8" cy="507.4" r="4.6" fill="#fff"/><path d="M874.8 503.4 Q875.4 506.8 878.8 507.4 Q875.4 508 874.8 511.4 Q874.2 508 870.8 507.4 Q874.2 506.8 874.8 503.4Z" fill="#7c4dff"/><g><circle cx="910.5" cy="504.4" r="7.6" fill="#fff" stroke="#e0495a" stroke-width="1.1"/><clipPath id="c3"><circle cx="910.5" cy="504.4" r="5.7"/></clipPath><g clip-path="url(#c3)"><rect x="904.5" y="498.4" width="12" height="12" fill="#fff"/><rect x="904.5" y="503.2" width="12" height="2.6" fill="#e04a4a"/><rect x="904.5" y="507.4" width="12" height="2.6" fill="#e04a4a"/><rect x="904.5" y="498.4" width="7.3" height="7.2" fill="#4a92e0"/><circle cx="906.9" cy="501.0" r="0.45" fill="#cfe3f8"/><circle cx="906.9" cy="502.8" r="0.45" fill="#cfe3f8"/><circle cx="906.9" cy="504.6" r="0.45" fill="#cfe3f8"/><circle cx="908.9" cy="501.0" r="0.45" fill="#cfe3f8"/><circle cx="908.9" cy="502.8" r="0.45" fill="#cfe3f8"/><circle cx="908.9" cy="504.6" r="0.45" fill="#cfe3f8"/><circle cx="910.9" cy="501.0" r="0.45" fill="#cfe3f8"/><circle cx="910.9" cy="502.8" r="0.45" fill="#cfe3f8"/><circle cx="910.9" cy="504.6" r="0.45" fill="#cfe3f8"/></g></g><g><circle cx="903.1" cy="504.4" r="7.6" fill="#fff" stroke="#e0495a" stroke-width="1.1"/><clipPath id="c2"><circle cx="903.1" cy="504.4" r="5.7"/></clipPath><g clip-path="url(#c2)"><rect x="897.1" y="498.4" width="12" height="12" fill="#fff"/><rect x="897.1" y="503.2" width="12" height="2.6" fill="#e04a4a"/><rect x="897.1" y="507.4" width="12" height="2.6" fill="#e04a4a"/><rect x="897.1" y="498.4" width="7.3" height="7.2" fill="#4a92e0"/><circle cx="899.5" cy="501.0" r="0.45" fill="#cfe3f8"/><circle cx="899.5" cy="502.8" r="0.45" fill="#cfe3f8"/><circle cx="899.5" cy="504.6" r="0.45" fill="#cfe3f8"/><circle cx="901.5" cy="501.0" r="0.45" fill="#cfe3f8"/><circle cx="901.5" cy="502.8" r="0.45" fill="#cfe3f8"/><circle cx="901.5" cy="504.6" r="0.45" fill="#cfe3f8"/><circle cx="903.5" cy="501.0" r="0.45" fill="#cfe3f8"/><circle cx="903.5" cy="502.8" r="0.45" fill="#cfe3f8"/><circle cx="903.5" cy="504.6" r="0.45" fill="#cfe3f8"/></g></g><g><circle cx="888.9" cy="504.4" r="7.6" fill="#fff" stroke="#e0495a" stroke-width="1.1"/><clipPath id="c1"><circle cx="888.9" cy="504.4" r="5.7"/></clipPath><g clip-path="url(#c1)"><rect x="882.9" y="498.4" width="12" height="12" fill="#fff"/><rect x="882.9" y="503.2" width="12" height="2.6" fill="#e04a4a"/><rect x="882.9" y="507.4" width="12" height="2.6" fill="#e04a4a"/><rect x="882.9" y="498.4" width="7.3" height="7.2" fill="#4a92e0"/><circle cx="885.3" cy="501.0" r="0.45" fill="#cfe3f8"/><circle cx="885.3" cy="502.8" r="0.45" fill="#cfe3f8"/><circle cx="885.3" cy="504.6" r="0.45" fill="#cfe3f8"/><circle cx="887.3" cy="501.0" r="0.45" fill="#cfe3f8"/><circle cx="887.3" cy="502.8" r="0.45" fill="#cfe3f8"/><circle cx="887.3" cy="504.6" r="0.45" fill="#cfe3f8"/><circle cx="889.3" cy="501.0" r="0.45" fill="#cfe3f8"/><circle cx="889.3" cy="502.8" r="0.45" fill="#cfe3f8"/><circle cx="889.3" cy="504.6" r="0.45" fill="#cfe3f8"/></g></g></g>
<g transform="translate(9.06 549.9) scale(0.625)" fill="#141414"><path d="M14 22H7V11H0V4h14v18zM28 22h-8l7.5-18h8L28 22z"/><circle cx="20.3" cy="8" r="3.7"/></g>
<text x="36.9" y="563.7" font-size="16" font-weight="bold" fill="#141414" textLength="91.2" lengthAdjust="spacingAndGlyphs">TradingView</text>
</svg>
</body></html>
